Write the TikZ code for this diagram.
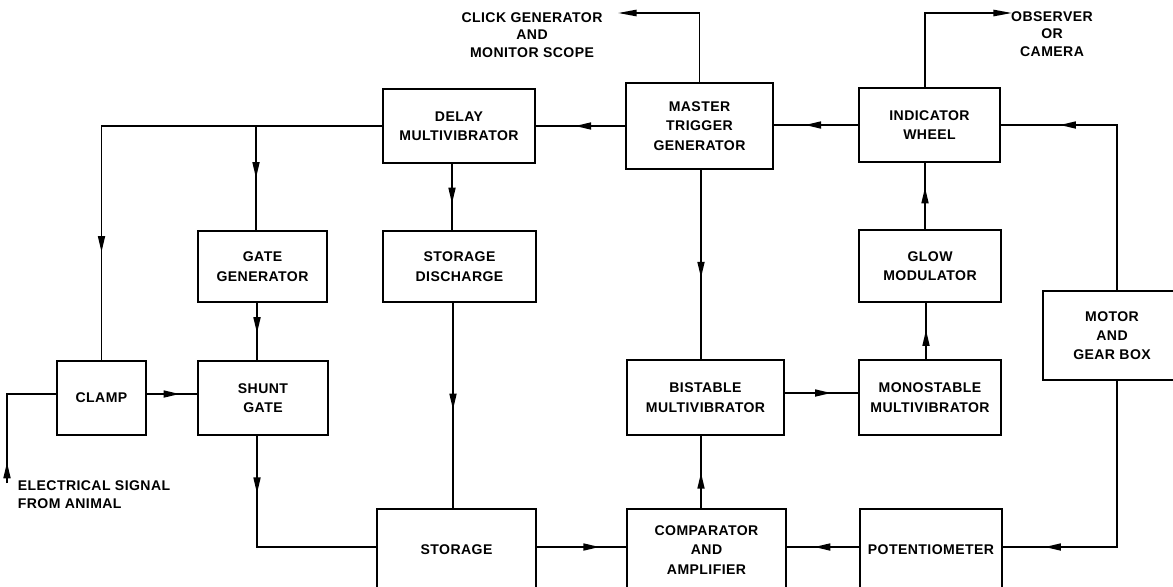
\documentclass[tikz,border=0pt]{standalone}
\usepackage{fontspec}
\setmainfont{Liberation Sans}[LetterSpace=3]
\usetikzlibrary{arrows.meta,decorations.markings}

\begin{document}
\begin{tikzpicture}[x=0.3mm, y=-0.3mm, line width=0.5mm,
    blk/.style={draw, align=center, inner sep=0pt, font=\bfseries\fontsize{12}{16.5}\selectfont},
    lbl/.style={align=center, inner sep=0pt, font=\bfseries\fontsize{12}{15}\selectfont},
    ar/.style={postaction={decorate}, decoration={markings, mark=at position #1 with {\arrow{Triangle[length=4.8mm,width=2.1mm]}}}},
    >={Triangle[length=5.6mm,width=1.9mm]}]
  \useasboundingbox (0,0) rectangle (1173,586);

  % top row
  \node[blk, minimum width=45.6mm, minimum height=22.2mm] (delay) at (459,126) {DELAY\\MULTIVIBRATOR};
  \node[blk, minimum width=44.1mm, minimum height=25.8mm] (master) at (699.5,126) {MASTER\\TRIGGER\\GENERATOR};
  \node[blk, minimum width=42.3mm, minimum height=22.2mm] (indic) at (929.5,125) {INDICATOR\\WHEEL};

  % second row
  \node[blk, minimum width=38.7mm, minimum height=21.3mm] (gategen) at (262.5,266.5) {GATE\\GENERATOR};
  \node[blk, minimum width=45.9mm, minimum height=21.3mm] (sdis) at (459.5,266.5) {STORAGE\\DISCHARGE};
  \node[blk, minimum width=42.6mm, minimum height=21.6mm] (glow) at (930,266) {GLOW\\MODULATOR};

  % third row
  \node[blk, minimum width=26.7mm, minimum height=22.2mm] (clamp) at (101.5,398) {CLAMP};
  \node[blk, minimum width=39mm, minimum height=22.2mm] (shunt) at (263,398) {SHUNT\\GATE};
  \node[blk, minimum width=47.1mm, minimum height=22.5mm] (bist) at (705.5,397.5) {BISTABLE\\MULTIVIBRATOR};
  \node[blk, minimum width=42.6mm, minimum height=22.5mm] (mono) at (930,397.5) {MONOSTABLE\\MULTIVIBRATOR};
  \node[blk, minimum width=41.4mm, minimum height=26.7mm] (motor) at (1112,335.5) {MOTOR\\AND\\GEAR BOX};

  % bottom row (cut off by the page edge)
  \node[blk, minimum width=47.7mm, minimum height=24.6mm] (storage) at (456.5,550) {STORAGE};
  \node[blk, minimum width=47.7mm, minimum height=24.6mm] (comp) at (706.5,550) {COMPARATOR\\AND\\AMPLIFIER};
  \node[blk, minimum width=42.6mm, minimum height=24.6mm] (pot) at (931,550) {POTENTIOMETER};

  % outside labels
  \node[lbl] (click) at (532,35) {CLICK GENERATOR\\AND\\MONITOR SCOPE};
  \node[lbl] (obs) at (1052,34) {OBSERVER\\OR\\CAMERA};
  \node[lbl, align=left, anchor=north west] (sig) at (17,480) {ELECTRICAL SIGNAL\\FROM ANIMAL};
  \coordinate (clkend) at (618,13);
  \coordinate (obsend) at (1012,13);
  \coordinate (sigend) at (7,483);

  % connections
  \draw[->] (master.north) |- (clkend);
  \draw[->] (925,0 |- indic.north) |- (obsend);
  \draw[ar=0.56] (master.west) -- (delay.east);
  \draw[ar=0.63] (indic.west) -- (indic.west -| master.east);
  \draw[ar=0.79] (1117,0 |- motor.north) |- (indic.east);
  \draw[ar=0.79] (delay.west) -| (clamp.north);
  \draw[ar=0.5] (256,0 |- delay.west) -- (256,0 |- gategen.north);
  \draw[ar=0.6] (452,0 |- delay.south) -- (452,0 |- sdis.north);
  \draw[ar=0.53] (257,0 |- gategen.south) -- (257,0 |- shunt.north);
  \draw[ar=0.65] (clamp.east |- 0,394) -- (shunt.west |- 0,394);
  \draw[ar=0.15] (sigend) |- (clamp.west |- 0,394);
  \draw[ar=0.25] (257,0 |- shunt.south) |- (storage.west |- 0,547);
  \draw[ar=0.52] (453,0 |- sdis.south) -- (453,0 |- storage.north);
  \draw[ar=0.7] (storage.east |- 0,547) -- (comp.west |- 0,547);
  \draw[ar=0.57] (701,0 |- master.south) -- (701,0 |- bist.north);
  \draw[ar=0.49] (701,0 |- comp.north) -- (701,0 |- bist.south);
  \draw[ar=0.63] (bist.east |- 0,393) -- (mono.west |- 0,393);
  \draw[ar=0.52] (926,0 |- mono.north) -- (926,0 |- glow.south);
  \draw[ar=0.63] (925,0 |- glow.north) -- (925,0 |- indic.south);
  \draw[ar=0.62] (pot.west |- 0,547) -- (comp.east |- 0,547);
  \draw[ar=0.85] (1117,0 |- motor.south) |- (pot.east |- 0,547);
\end{tikzpicture}
\end{document}
